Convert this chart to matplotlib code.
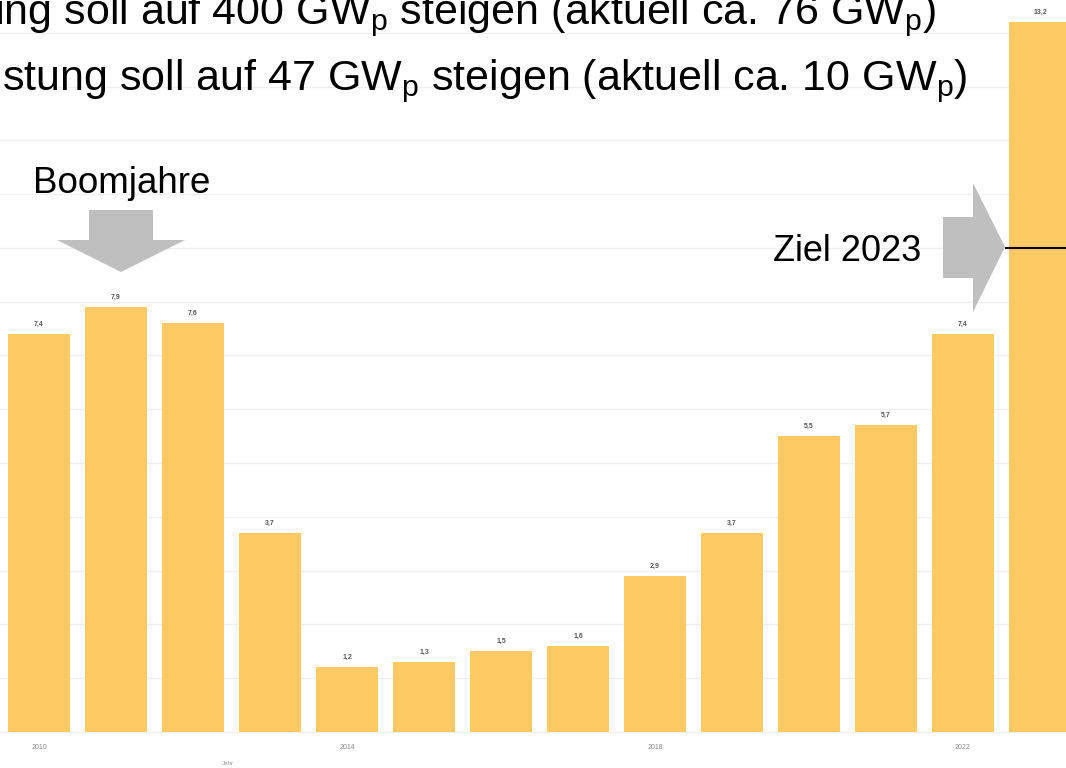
import matplotlib.pyplot as plt
from matplotlib.patches import Polygon

plt.rcParams['font.family'] = ['Liberation Sans', 'DejaVu Sans']
plt.rcParams['mathtext.fontset'] = 'custom'
plt.rcParams['mathtext.rm'] = 'Liberation Sans'
plt.rcParams['mathtext.it'] = 'Liberation Sans:italic'

# Zubau Photovoltaik in GW je Jahr
years = list(range(2010, 2024))
values = [7.4, 7.9, 7.6, 3.7, 1.2, 1.3, 1.5, 1.6, 2.9, 3.7, 5.5, 5.7, 7.4, 13.2]
tick_years = [2010, 2014, 2018, 2022]
ziel_2023 = 9.0

W, H = 1066, 768
fig = plt.figure(figsize=(W / 100, H / 100), dpi=100)
ax = fig.add_axes([0, 0, 1, 1])

x = list(range(len(years)))
ax.bar(x, values, width=0.805, color='#ffca63', zorder=2)

# Gitterlinien
for g in range(0, 14):
    ax.axhline(g, color='#efefef', lw=0.9, zorder=1)

for xi, v in zip(x, values):
    ax.annotate(f'{v:.1f}'.replace('.', ','), (xi, v), xytext=(0, 7),
                textcoords='offset points', ha='center', va='center',
                fontsize=5, color='#555555', fontweight='bold')

for ty in tick_years:
    ax.text(years.index(ty), -0.28, str(ty), ha='center', va='center',
            fontsize=5, color='#888888')
ax.text(2.45, -0.58, 'Jahr', ha='center', va='center', fontsize=4.5, color='#999999')

# Zielmarke 2023
ax.hlines(ziel_2023, 12.55, 13.5, color='black', lw=1.5, zorder=3)

ax.set_xlim(-39 / 77, (W - 39) / 77)
ax.set_ylim(-36 / 53.79, 732 / 53.79)
ax.axis('off')


def px(pts):
    return [(a / W, 1 - b / H) for a, b in pts]


grau = '#bfbfbf'
ax.add_patch(Polygon(px([(89, 210), (153, 210), (153, 240), (185, 240),
                         (121, 272), (57, 240), (89, 240)]),
                     closed=True, transform=ax.transAxes, color=grau, lw=0, zorder=4))
ax.add_patch(Polygon(px([(943, 217), (973, 217), (973, 183), (1005, 247),
                         (973, 312), (973, 278), (943, 278)]),
                     closed=True, transform=ax.transAxes, color=grau, lw=0, zorder=4))

ax.text(33 / W, 1 - 193 / H, 'Boomjahre', transform=ax.transAxes,
        fontsize=26.5, ha='left', va='baseline', color='black')
ax.text(773 / W, 1 - 261 / H, 'Ziel 2023', transform=ax.transAxes,
        fontsize=26, ha='left', va='baseline', color='black')

ax.text(936 / W, 1 - 24 / H,
        'ung soll auf 400 GW$_\\mathrm{p}$ steigen (aktuell ca. 76 GW$_\\mathrm{p}$)',
        transform=ax.transAxes, fontsize=31, ha='right', va='baseline', color='black')
ax.text(2 / W, 1 - 90 / H,
        'stung soll auf 47 GW$_\\mathrm{p}$ steigen (aktuell ca. 10 GW$_\\mathrm{p}$)',
        transform=ax.transAxes, fontsize=31, ha='left', va='baseline', color='black')

fig.savefig('out.png', dpi=100)
